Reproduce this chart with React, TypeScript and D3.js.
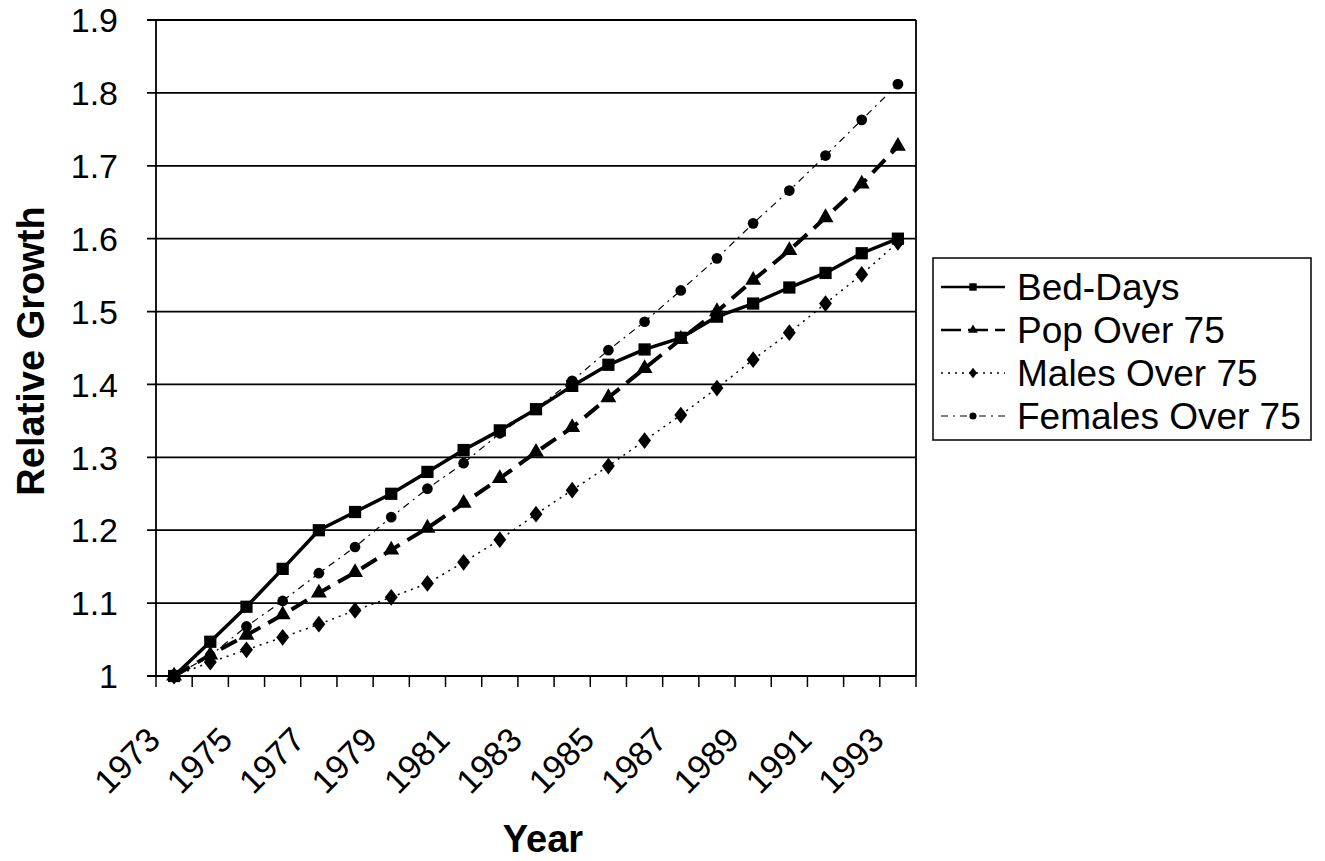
import React from "react";
import * as d3 from "d3";

const years = d3.range(1973, 1994);
const yTicks = [1, 1.1, 1.2, 1.3, 1.4, 1.5, 1.6, 1.7, 1.8, 1.9];

const bedDays = [1.0, 1.047, 1.095, 1.147, 1.2, 1.225, 1.25, 1.28, 1.31, 1.337, 1.366, 1.398, 1.427, 1.448, 1.464, 1.493, 1.511, 1.533, 1.553, 1.58, 1.6];
const popOver75 = [1.0, 1.029, 1.056, 1.084, 1.114, 1.142, 1.173, 1.203, 1.237, 1.271, 1.307, 1.341, 1.382, 1.422, 1.462, 1.5, 1.543, 1.584, 1.629, 1.675, 1.727];
const malesOver75 = [1.0, 1.019, 1.036, 1.053, 1.071, 1.09, 1.108, 1.127, 1.156, 1.187, 1.222, 1.255, 1.288, 1.323, 1.358, 1.395, 1.434, 1.471, 1.511, 1.551, 1.595];
const femalesOver75 = [1.0, 1.028, 1.068, 1.103, 1.141, 1.177, 1.218, 1.257, 1.292, 1.333, 1.367, 1.405, 1.447, 1.486, 1.529, 1.573, 1.621, 1.666, 1.714, 1.763, 1.812];

const series = [
  { name: "Bed-Days", values: bedDays, marker: "square", width: 3.5, dash: "" },
  { name: "Pop Over 75", values: popOver75, marker: "triangle", width: 4, dash: "18 9" },
  { name: "Males Over 75", values: malesOver75, marker: "diamond", width: 1.5, dash: "2 5" },
  { name: "Females Over 75", values: femalesOver75, marker: "circle", width: 1.2, dash: "7 5 2 5" },
];

const font = "Liberation Sans, Arial, sans-serif";

const symbolFor = (m: string) =>
  m === "square" ? d3.symbolSquare : m === "triangle" ? d3.symbolTriangle : m === "diamond" ? d3.symbolDiamond : d3.symbolCircle;

const Marker = ({ m, x, y, size }: { m: string; x: number; y: number; size: number }) => (
  <path d={d3.symbol().type(symbolFor(m)).size(size)() || ""} transform={`translate(${x},${y})${m === "diamond" ? " scale(1.2,0.9)" : ""}`} fill="#000" />
);

const App = () => {
  const left = 156;
  const right = 916;
  const top = 20;
  const bottom = 676;

  const x = d3.scaleBand<number>().domain(years).range([left, right]);
  const cx = (yr: number) => (x(yr) as number) + x.bandwidth() / 2;
  const y = d3.scaleLinear().domain([1, 1.9]).range([bottom, top]);

  const line = d3
    .line<number>()
    .x((d, i) => cx(years[i]))
    .y((d) => y(d));

  const sizes: Record<string, number> = { square: 150, triangle: 110, diamond: 100, circle: 90 };

  return (
    <svg width={1325} height={861} style={{ position: "absolute", left: 0, top: 0, background: "#fff" }}>
      <g fontFamily={font}>
        {yTicks.map((t) => (
          <g key={t}>
            <line x1={left - 9} x2={right} y1={y(t)} y2={y(t)} stroke="#000" strokeWidth={1.8} />
            <text x={118} y={y(t)} dy="0.36em" textAnchor="end" fontSize={34} fill="#000">
              {t === 1 ? "1" : t.toFixed(1)}
            </text>
          </g>
        ))}
        <line x1={left} x2={left} y1={top} y2={bottom} stroke="#000" strokeWidth={1.8} />
        <line x1={right} x2={right} y1={top} y2={bottom} stroke="#000" strokeWidth={1.8} />
        {d3.range(years.length + 1).map((i) => {
          const px = left + i * x.step();
          return <line key={i} x1={px} x2={px} y1={bottom} y2={bottom + 11} stroke="#000" strokeWidth={1.5} />;
        })}
        {years.filter((yr) => (yr - 1973) % 2 === 0).map((yr) => (
          <text key={yr} transform={`translate(${cx(yr) - 12},${bottom + 66}) rotate(-45)`} textAnchor="end" fontSize={34} fill="#000">
            {yr}
          </text>
        ))}
        {series.map((s) => (
          <g key={s.name}>
            <path d={line(s.values) || ""} fill="none" stroke="#000" strokeWidth={s.width} strokeDasharray={s.dash} />
            {s.values.map((v, i) => (
              <Marker key={i} m={s.marker} x={cx(years[i])} y={y(v)} size={sizes[s.marker]} />
            ))}
          </g>
        ))}
        <text transform={`translate(44,351) rotate(-90)`} textAnchor="middle" fontSize={38} fontWeight="bold" fill="#000">
          Relative Growth
        </text>
        <text x={543} y={852} textAnchor="middle" fontSize={38} fontWeight="bold" fill="#000">
          Year
        </text>
        <rect x={933} y={258} width={378} height={182} fill="#fff" stroke="#000" strokeWidth={1.5} />
        {series.map((s, i) => {
          const ly = 287 + i * 43;
          return (
            <g key={s.name}>
              <line x1={941} x2={1005} y1={ly} y2={ly} stroke="#000" strokeWidth={Math.min(s.width, 2.5)} strokeDasharray={s.dash ? (s.marker === "triangle" ? "20 7" : s.dash) : ""} />
              <Marker m={s.marker} x={973} y={ly} size={s.marker === "square" ? 55 : 40} />
              <text x={1017} y={ly} dy="0.36em" fontSize={37} fill="#000">
                {s.name}
              </text>
            </g>
          );
        })}
      </g>
    </svg>
  );
};

export default App;
